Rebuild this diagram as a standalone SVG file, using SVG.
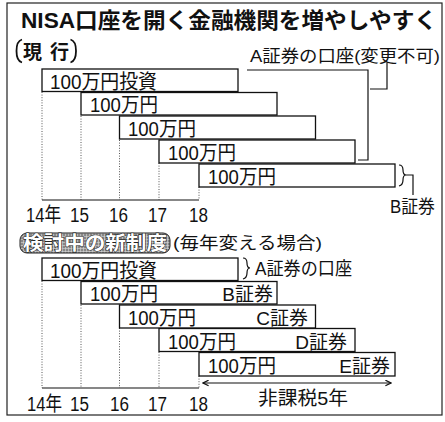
<svg xmlns="http://www.w3.org/2000/svg" width="445" height="422" viewBox="0 0 445 422">
<defs>
<style>
text{font-family:"Liberation Sans","Noto Sans CJK JP",sans-serif;fill:#111}
.bar{fill:#fff;stroke:#111;stroke-width:1.3}
.bt{font-size:20px}
.yr{font-size:20px}
.dot{stroke:#444;stroke-width:0.9;stroke-dasharray:1 1.6;fill:none}
.ln{stroke:#111;stroke-width:1.2;fill:none}
.par{stroke:#111;stroke-width:1.8;fill:none}
</style>
<pattern id="halftone" width="3" height="3" patternUnits="userSpaceOnUse">
<rect width="3" height="3" fill="#b8b8b8"/>
<circle cx="1" cy="1" r="0.7" fill="#333"/>
<circle cx="2.5" cy="2.3" r="0.4" fill="#f4f4f4"/>
</pattern>
<marker id="ah" viewBox="0 0 10 10" refX="9" refY="5" markerWidth="7" markerHeight="7" orient="auto-start-reverse" markerUnits="userSpaceOnUse">
<path d="M1,1 L9,5 L1,9" fill="none" stroke="#111" stroke-width="1.8"/>
</marker>
</defs>
<rect x="0" y="0" width="445" height="422" fill="#fff"/>
<rect x="7" y="3" width="435" height="412" fill="none" stroke="#222" stroke-width="1.2"/>

<g id="title"><text x="21" y="28" font-size="22" font-weight="700" textLength="416" lengthAdjust="spacingAndGlyphs">NISA口座を開く金融機関を増やしやすく</text></g>

<g id="current-label">
<path class="par" d="M22,39.5 Q16.5,41 16.5,51 Q16.5,61 22,62.5"/>
<path class="par" d="M70.5,39.5 Q76,41 76,51 Q76,61 70.5,62.5"/>
<text x="23" y="59" font-size="19" font-weight="700">現</text>
<text x="50" y="59" font-size="19" font-weight="700">行</text>
</g>
<g id="label-a-fixed"><text x="250" y="62" font-size="17" textLength="190" lengthAdjust="spacingAndGlyphs">A証券の口座(変更不可)</text></g>
<g id="label-b"><text x="390" y="213" font-size="18" textLength="45" lengthAdjust="spacingAndGlyphs">B証券</text></g>

<g id="connectors">
<path class="dot" d="M42,92V200 M81,116V200 M119.5,140V200 M159,163V200 M199,187V200"/>
<path class="ln" d="M42,200H199"/>
<path class="ln" d="M247,70H368V160H358"/>
<path class="ln" d="M387,63V89H370"/>
<path class="ln" d="M399,165Q403,165 403,170Q403,175 406,175Q403,175 403,180Q403,185 399,186"/>
<path class="ln" d="M406,175H413V195"/>
<path class="dot" d="M42,281V388 M81,305V388 M119.5,328V388 M159,352V388 M199,376V388"/>
<path class="ln" d="M42,388H199"/>
<path class="ln" d="M243,258Q247,258 247,263Q247,268 250,268Q247,268 247,273Q247,278 243,279"/>
<path class="ln" d="M203,383H391" stroke-width="1.5" marker-start="url(#ah)" marker-end="url(#ah)"/>
</g>

<g id="cur-bar1"><rect class="bar" x="42" y="69" width="196" height="22.5"/><text class="bt" x="50" y="88.5" textLength="107" lengthAdjust="spacingAndGlyphs">100万円投資</text></g>
<g id="cur-bar2"><rect class="bar" x="81" y="92.5" width="196" height="22.5"/><text class="bt" x="90" y="112" textLength="68" lengthAdjust="spacingAndGlyphs">100万円</text></g>
<g id="cur-bar3"><rect class="bar" x="119.5" y="116" width="196" height="23"/><text class="bt" x="128" y="136" textLength="68" lengthAdjust="spacingAndGlyphs">100万円</text></g>
<g id="cur-bar4"><rect class="bar" x="159" y="140" width="196" height="23"/><text class="bt" x="168" y="160" textLength="68" lengthAdjust="spacingAndGlyphs">100万円</text></g>
<g id="cur-bar5"><rect class="bar" x="199" y="164" width="196" height="23"/><text class="bt" x="208" y="184" textLength="68" lengthAdjust="spacingAndGlyphs">100万円</text></g>

<g id="years-top">
<text class="yr" x="26" y="222" textLength="35" lengthAdjust="spacingAndGlyphs">14年</text>
<text class="yr" x="70" y="222" textLength="19" lengthAdjust="spacingAndGlyphs">15</text>
<text class="yr" x="109" y="222" textLength="19" lengthAdjust="spacingAndGlyphs">16</text>
<text class="yr" x="148" y="222" textLength="19" lengthAdjust="spacingAndGlyphs">17</text>
<text class="yr" x="189" y="222" textLength="19" lengthAdjust="spacingAndGlyphs">18</text>
</g>

<g id="new-label">
<rect x="20" y="233" width="150" height="20" rx="7" fill="url(#halftone)" stroke="#222" stroke-width="1"/>
<text x="23" y="250" font-size="19" font-weight="700" textLength="144" lengthAdjust="spacingAndGlyphs" style="fill:#fff;stroke:#222;stroke-width:1.1;paint-order:stroke">検討中の新制度</text>
<text x="173" y="249" font-size="17" textLength="149" lengthAdjust="spacingAndGlyphs">(毎年変える場合)</text>
</g>

<g id="new-bar-a"><rect class="bar" x="42" y="258" width="196" height="22.5"/><text class="bt" x="50" y="277.5" textLength="107" lengthAdjust="spacingAndGlyphs">100万円投資</text></g>
<g id="label-a"><text x="255" y="275" font-size="18" textLength="97" lengthAdjust="spacingAndGlyphs">A証券の口座</text></g>
<g id="new-bar-b"><rect class="bar" x="81" y="281.5" width="196" height="22.5"/><text class="bt" x="90" y="301" textLength="68" lengthAdjust="spacingAndGlyphs">100万円</text><text x="273" y="301" font-size="19" text-anchor="end">B証券</text></g>
<g id="new-bar-c"><rect class="bar" x="119.5" y="305" width="196" height="23"/><text class="bt" x="128" y="325" textLength="68" lengthAdjust="spacingAndGlyphs">100万円</text><text x="308" y="325" font-size="19" text-anchor="end">C証券</text></g>
<g id="new-bar-d"><rect class="bar" x="159" y="328.5" width="196" height="23"/><text class="bt" x="168" y="348.5" textLength="68" lengthAdjust="spacingAndGlyphs">100万円</text><text x="347" y="348.5" font-size="19" text-anchor="end">D証券</text></g>
<g id="new-bar-e"><rect class="bar" x="199" y="352.5" width="196" height="23.5"/><text class="bt" x="208" y="372.5" textLength="68" lengthAdjust="spacingAndGlyphs">100万円</text><text x="390" y="372.5" font-size="19" text-anchor="end">E証券</text></g>

<g id="tax-free"><text x="258" y="405" font-size="19" textLength="90" lengthAdjust="spacingAndGlyphs">非課税5年</text></g>

<g id="years-bottom">
<text class="yr" x="27" y="411" textLength="35" lengthAdjust="spacingAndGlyphs">14年</text>
<text class="yr" x="70" y="411" textLength="19" lengthAdjust="spacingAndGlyphs">15</text>
<text class="yr" x="110" y="411" textLength="19" lengthAdjust="spacingAndGlyphs">16</text>
<text class="yr" x="148" y="411" textLength="19" lengthAdjust="spacingAndGlyphs">17</text>
<text class="yr" x="189" y="411" textLength="19" lengthAdjust="spacingAndGlyphs">18</text>
</g>
</svg>
